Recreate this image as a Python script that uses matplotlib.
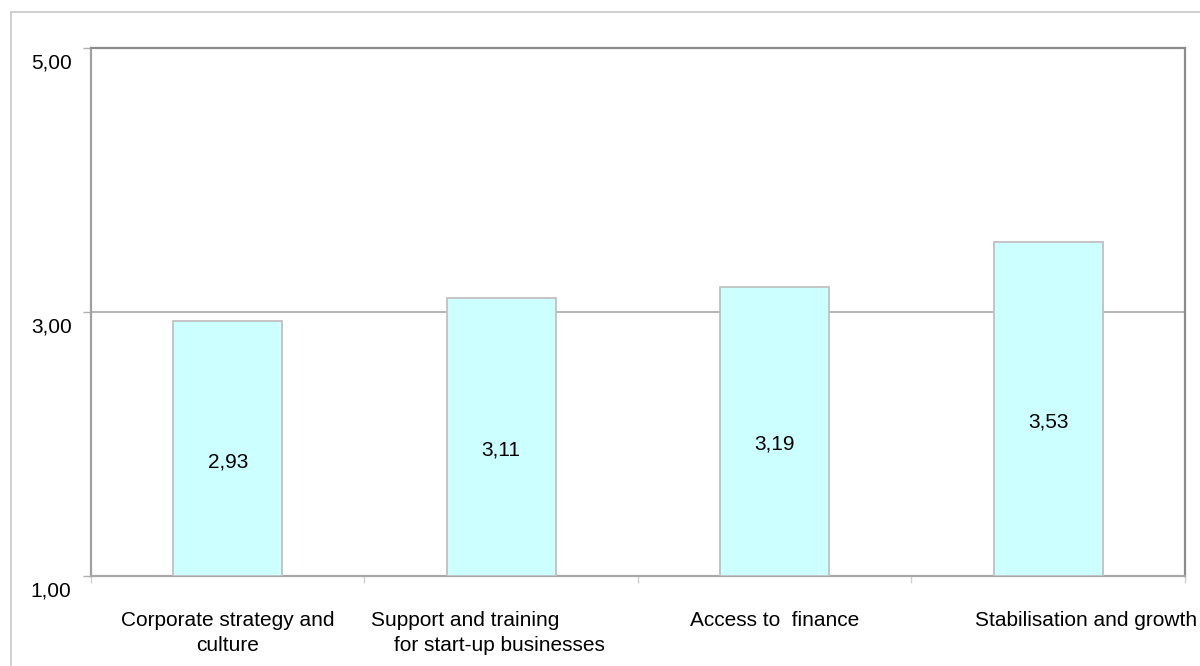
import matplotlib.pyplot as plt
import matplotlib.transforms as mtransforms
from matplotlib.lines import Line2D

plt.rcParams['font.family'] = ['Liberation Sans', 'DejaVu Sans']

categories = ['Corporate strategy and\nculture',
              'Support and training\n    for start-up businesses',
              'Access to  finance',
              'Stabilisation and growth']
values = [2.93, 3.11, 3.19, 3.53]
label_shift = [0, -13, 0, 38]   # sideways nudge of category labels, pixels
yticks = [1.0, 3.0, 5.0]

fig = plt.figure(figsize=(12, 6.66), dpi=100)
ax = fig.add_axes([0.0758, 0.1351, 0.9117, 0.7928])

x = list(range(len(values)))
ax.bar(x, [v - 1 for v in values], bottom=1, width=0.4,
       color='#CCFFFF', edgecolor='#C0C0C0', linewidth=1.3, zorder=3)

ax.set_xlim(-0.5, len(values) - 0.5)
ax.set_ylim(1, 5)

# y axis: comma decimals, labels hang a bit below their tick
ax.set_yticks(yticks)
ax.set_yticklabels([f'{t:.2f}'.replace('.', ',') for t in yticks])
ax.tick_params(axis='y', length=6, width=1, color='#B0B0B0', pad=8,
               labelsize=15)
drop = mtransforms.ScaledTranslation(0, -0.13, fig.dpi_scale_trans)
for lab in ax.get_yticklabels():
    lab.set_transform(lab.get_transform() + drop)
ax.grid(axis='y', color='#B0B0B0', linewidth=1.3, zorder=1)

# x axis: ticks at category boundaries, labels drawn as text
ax.set_xticks([i - 0.5 for i in range(len(values) + 1)])
ax.set_xticklabels([])
ax.tick_params(axis='x', length=5, width=1, color='#D0D0D0')
for i, (cat, dx) in enumerate(zip(categories, label_shift)):
    ax.annotate(cat, xy=(i, 0), xycoords=('data', 'axes fraction'),
                xytext=(dx, -35), textcoords='offset pixels',
                ha='center', va='top', multialignment='center' if i != 1 else 'left',
                fontsize=15, linespacing=1.38)

for i, v in enumerate(values):
    ax.annotate(f'{v:.2f}'.replace('.', ','), xy=(i, (1 + v) / 2),
                xytext=(0, -13), textcoords='offset pixels',
                ha='center', va='center', fontsize=15, zorder=4)

for side, col in [('left', '#A0A0A0'), ('bottom', '#A8A8A8'),
                  ('top', '#8C8C8C'), ('right', '#8C8C8C')]:
    ax.spines[side].set_color(col)
    ax.spines[side].set_linewidth(1.6)

# outer chart frame (left and top edges)
fig.add_artist(Line2D([11 / 1200, 11 / 1200], [0, 1 - 12 / 666],
                      transform=fig.transFigure, color='#D0D0D0', lw=1.4))
fig.add_artist(Line2D([11 / 1200, 1], [1 - 12 / 666, 1 - 12 / 666],
                      transform=fig.transFigure, color='#D0D0D0', lw=1.4))

fig.savefig('out.png', dpi=100)
